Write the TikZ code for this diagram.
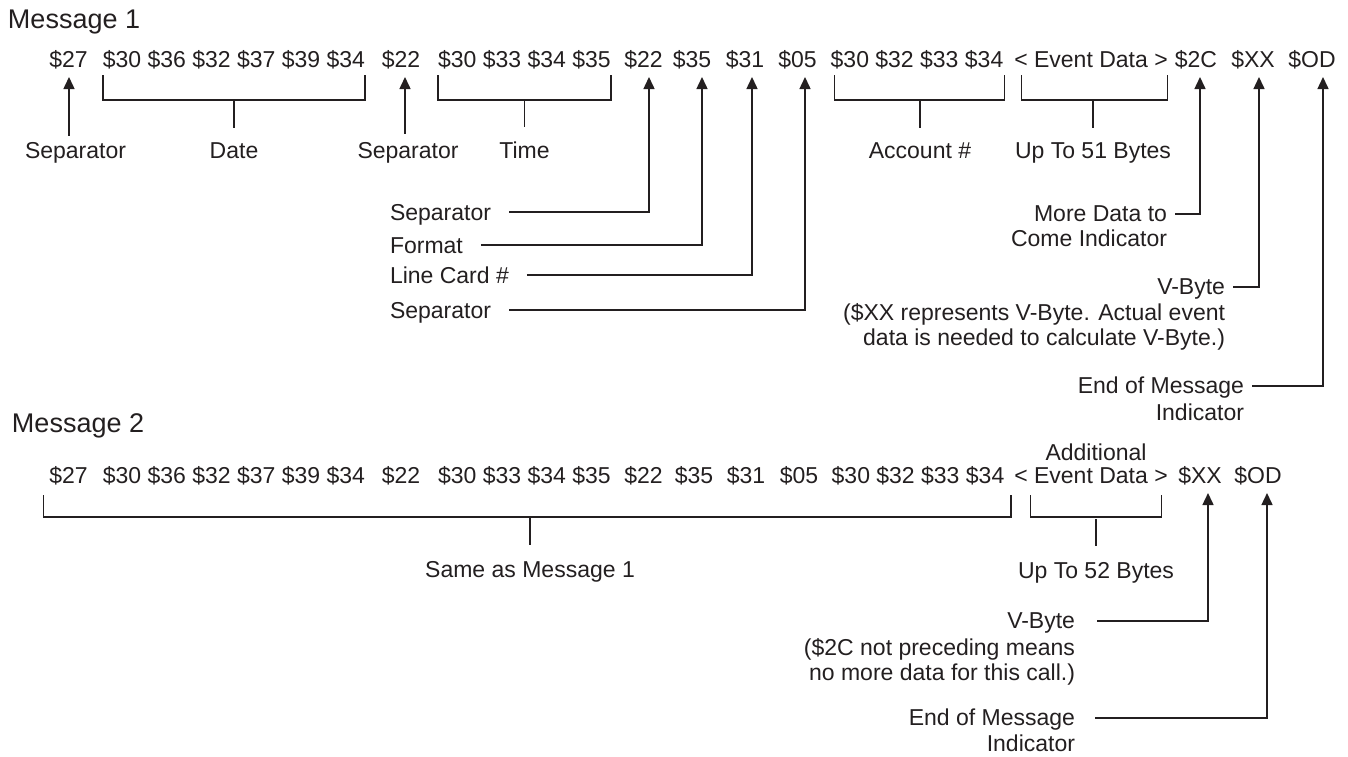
\documentclass[tikz,border=0pt]{standalone}
\usepackage{fontspec}
\setmainfont{Liberation Sans}
\usetikzlibrary{arrows.meta}
\definecolor{ink}{RGB}{35,31,32}
\begin{document}
\begin{tikzpicture}[x=1pt,y=-1pt,
  every node/.style={inner sep=0pt,outer sep=0pt,text=ink,font=\fontsize{23}{27}\selectfont},
  tok/.style={anchor=base},
  lbl/.style={anchor=base},
  lft/.style={anchor=base west},
  rgt/.style={anchor=base east},
  ttl/.style={anchor=base west,font=\fontsize{27}{32}\selectfont},
  ln/.style={draw=ink,line width=1.5pt},
  arr/.style={draw=ink,line width=1.5pt,-{Triangle[width=11pt,length=12pt]}}]
\useasboundingbox (0,0) rectangle (1348,756);

% ---------------- Message 1 ----------------
\node[ttl] (m1) at (8,28) {Message 1};
\node[tok] (t27)  at (68.5,67)  {\$27};
\node[tok] (date) at (234,67)   {\$30 \$36 \$32 \$37 \$39 \$34};
\node[tok] (t22a) at (401,67)   {\$22};
\node[tok] (time) at (524.5,67) {\$30 \$33 \$34 \$35};
\node[tok] (t22b) at (643.5,67) {\$22};
\node[tok] (t35)  at (692,67)   {\$35};
\node[tok] (t31)  at (745,67)   {\$31};
\node[tok] (t05)  at (797.5,67) {\$05};
\node[tok] (acct) at (917,67)   {\$30 \$32 \$33 \$34};
\node[tok] (evt)  at (1091,67)  {< Event Data >};
\node[tok] (t2C)  at (1196,67)  {\$2C};
\node[tok] (tXX)  at (1253,67)  {\$XX};
\node[tok] (tOD)  at (1312,67)  {\$OD};

% labels under the row
\node[lft] (sepA)  at (25,158)   {Separator};
\node[lbl] (dateL) at (234,158)  {Date};
\node[lbl] (sepB)  at (408,158)  {Separator};
\node[lbl] (timeL) at (524.5,158){Time};
\node[lbl] (acctL) at (920,158)  {Account \#};
\node[lbl] (evtL)  at (1093,158) {Up To 51 Bytes};

% arrow tips
\coordinate (a27)  at ([xshift=0.5pt,yshift=-10pt]t27.base);
\coordinate (a22a) at ([xshift=4pt,yshift=-10pt]t22a.base);
\coordinate (a22b) at ([xshift=5.5pt,yshift=-10pt]t22b.base);
\coordinate (a35)  at ([xshift=10pt,yshift=-10pt]t35.base);
\coordinate (a31)  at ([xshift=7pt,yshift=-10pt]t31.base);
\coordinate (a05)  at ([xshift=7.5pt,yshift=-10pt]t05.base);
\coordinate (a2C)  at ([xshift=4pt,yshift=-10pt]t2C.base);
\coordinate (aXX)  at ([xshift=6pt,yshift=-10pt]tXX.base);
\coordinate (aOD)  at ([xshift=11pt,yshift=-10pt]tOD.base);

\draw[arr,shorten <=6pt] (sepA.north -| a27) -- (a27);
\draw[arr,shorten <=8pt] (sepB.north -| a22a) -- (a22a);

% brackets
\draw[ln] ([yshift=-8pt]date.base west) |- ([yshift=-33pt]date.base) -| ([yshift=-8pt]date.base east);
\draw[ln] ([yshift=-33pt]date.base) -- ([yshift=14pt]dateL.north);
\draw[ln] ([yshift=-8pt]time.base west) |- ([yshift=-33pt]time.base) -| ([yshift=-8pt]time.base east);
\draw[ln] ([yshift=-33pt]time.base) -- ([yshift=14pt]timeL.north);
\draw[ln] ([xshift=4pt,yshift=-8pt]acct.base west) |- ([xshift=3pt,yshift=-33pt]acct.base) -| ([xshift=1pt,yshift=-8pt]acct.base east);
\draw[ln] ([xshift=3pt,yshift=-33pt]acct.base) -- ([yshift=14pt]acctL.north);
\draw[ln] ([xshift=7pt,yshift=-8pt]evt.base west) |- ([xshift=2pt,yshift=-33pt]evt.base) -| ([yshift=-8pt]evt.base east);
\draw[ln] ([xshift=2pt,yshift=-33pt]evt.base) -- ([yshift=14pt]evtL.north);

% left callouts
\node[lft] (c1) at (390,220) {Separator};
\node[lft] (c2) at (390,253) {Format};
\node[lft] (c3) at (390,283) {Line Card \#};
\node[lft] (c4) at (390,318) {Separator};
\draw[arr] ([xshift=18pt,yshift=8pt]c1.base east) -| (a22b);
\draw[arr] ([xshift=18pt,yshift=8pt]c2.base east) -| (a35);
\draw[arr] ([xshift=18pt,yshift=8pt]c3.base east) -| (a31);
\draw[arr] ([xshift=18pt,yshift=8pt]c4.base east) -| (a05);

% right callouts
\node[rgt] (r1)  at (1167,221) {More Data to};
\node[rgt] (r1b) at (1167,246) {Come Indicator};
\node[rgt] (r2)  at (1225,294) {V-Byte};
\node[rgt] (r2b) at (1225,320) {(\$XX represents V-Byte. Actual event};
\node[rgt] (r2c) at (1225,345) {data is needed to calculate V-Byte.)};
\node[rgt] (r3)  at (1244,393) {End of Message};
\node[rgt] (r3b) at (1244,420) {Indicator};
\draw[arr] ([xshift=8pt,yshift=7pt]r1.base east) -| (a2C);
\draw[arr] ([xshift=8pt,yshift=7pt]r2.base east) -| (aXX);
\draw[arr] ([xshift=8pt,yshift=7pt]r3.base east) -| (aOD);

% ---------------- Message 2 ----------------
\node[ttl] (m2) at (12,432) {Message 2};
\node[lbl] (add) at (1096,460) {Additional};
\node[tok] (u27)  at (68.5,483)  {\$27};
\node[tok] (udate) at (234,483)  {\$30 \$36 \$32 \$37 \$39 \$34};
\node[tok] (u22a) at (401,483)   {\$22};
\node[tok] (utime) at (524.5,483){\$30 \$33 \$34 \$35};
\node[tok] (u22b) at (643.5,483) {\$22};
\node[tok] (u35)  at (694,483)   {\$35};
\node[tok] (u31)  at (746,483)   {\$31};
\node[tok] (u05)  at (799,483)   {\$05};
\node[tok] (uacct) at (918,483)  {\$30 \$32 \$33 \$34};
\node[tok] (uevt) at (1091,483)  {< Event Data >};
\node[tok] (uXX)  at (1200,483)  {\$XX};
\node[tok] (uOD)  at (1258,483)  {\$OD};

\node[lbl] (same) at (530,577) {Same as Message 1};
\node[lbl] (up52) at (1096,578) {Up To 52 Bytes};

\draw[ln] ([xshift=-6pt,yshift=-12pt]u27.base west) -- ([xshift=-6pt,yshift=-34pt]u27.base west)
          -- ([xshift=6.5pt,yshift=-34pt]uacct.base east) -- ([xshift=6.5pt,yshift=-12pt]uacct.base east);
\draw[ln] ([yshift=16pt]same.north) -- ([yshift=43pt]same.north);
\draw[ln] ([xshift=16pt,yshift=-12pt]uevt.base west) |- ([yshift=-34pt]uevt.base) -| ([xshift=-6pt,yshift=-12pt]uevt.base east);
\draw[ln] ([yshift=16pt]up52.north) -- ([yshift=43pt]up52.north);

\coordinate (bXX) at ([xshift=8pt,yshift=-10pt]uXX.base);
\coordinate (bOD) at ([xshift=9pt,yshift=-10pt]uOD.base);

\node[rgt] (s1)  at (1075,628) {V-Byte};
\node[rgt] (s1b) at (1075,655) {(\$2C not preceding means};
\node[rgt] (s1c) at (1075,680) {no more data for this call.)};
\node[rgt] (s2)  at (1075,725) {End of Message};
\node[rgt] (s2b) at (1075,751) {Indicator};
\draw[arr] ([xshift=22pt,yshift=7pt]s1.base east) -| (bXX);
\draw[arr] ([xshift=20pt,yshift=7pt]s2.base east) -| (bOD);
\end{tikzpicture}
\end{document}
